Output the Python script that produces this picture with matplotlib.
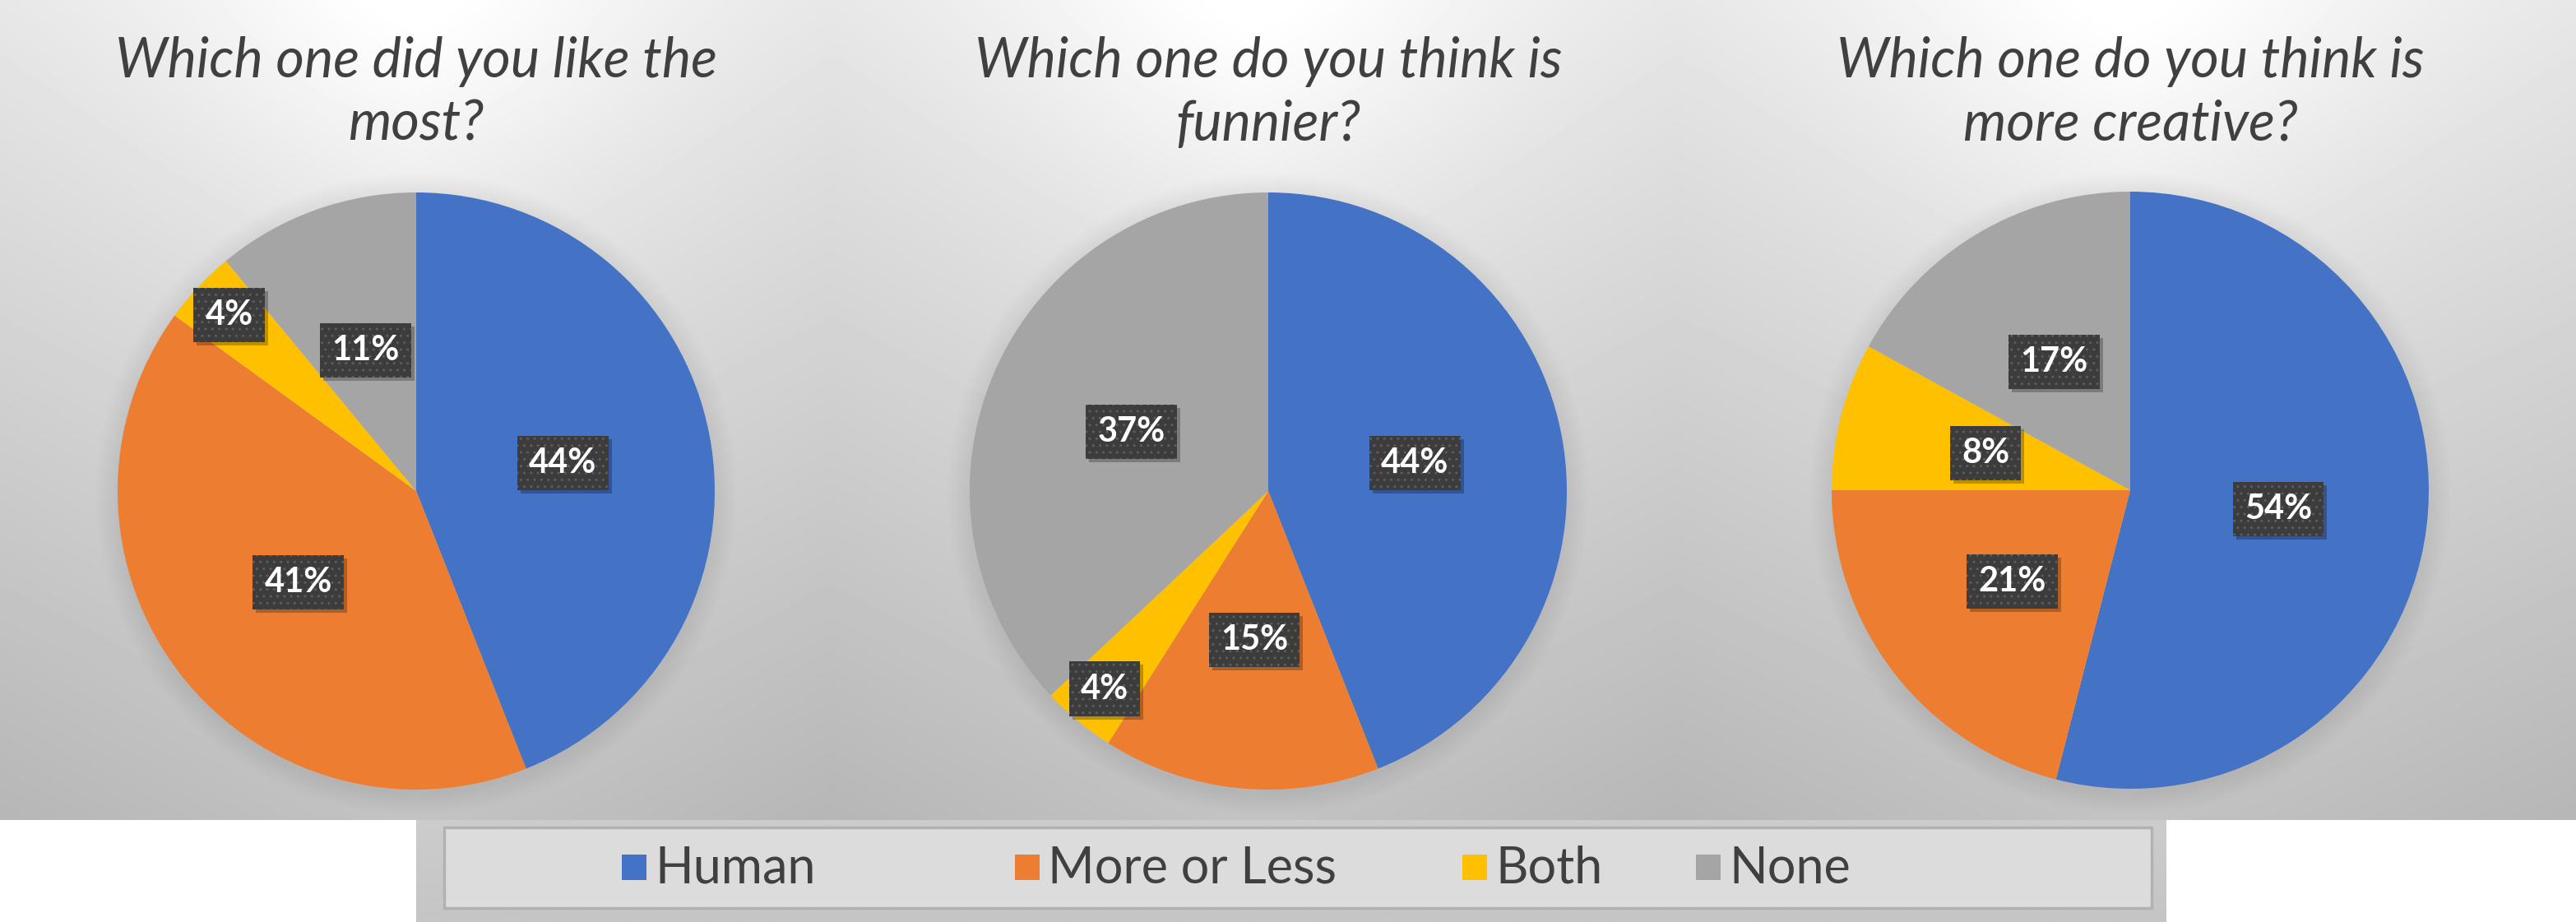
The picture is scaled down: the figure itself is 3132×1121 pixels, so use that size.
import numpy as np
import matplotlib
matplotlib.use("Agg")
import matplotlib.pyplot as plt
import matplotlib.transforms as mtransforms
from matplotlib.patches import Circle, Rectangle

W, H = 3132, 1121

# -------------------- data --------------------
categories = ["Human", "More or Less", "Both", "None"]
colors = ["#4472C4", "#ED7D31", "#FFC000", "#A5A5A5"]

titles = ["Which one did you like the\nmost?",
          "Which one do you think is\nfunnier?",
          "Which one do you think is\nmore creative?"]

liked = [44, 41, 4, 11]
funnier = [44, 15, 4, 37]
creative = [54, 21, 8, 17]
all_values = [liked, funnier, creative]

# -------------------- layout (pixels) --------------------
panels = [(0, 1010), (1010, 2038), (2038, 3132)]
panel_bottom = 997
centers = [(506, 597), (1542, 597), (2590, 596)]
R = 363


def px_axes(x0, y0, x1, y1, z=0):
    return fig.add_axes([x0 / W, 1 - y1 / H, (x1 - x0) / W, (y1 - y0) / H], zorder=z)


def gradient_bg(ax, top=0.955, bottom=0.765, side=0.05, glow=0.05):
    yy, xx = np.mgrid[0:1:300j, 0:1:300j]
    v = top - (top - bottom) * yy - side * np.abs(xx - 0.5) * 2
    v += glow * np.exp(-((xx - 0.5) ** 2 / 0.08 + yy ** 2 / 0.06))
    ax.imshow(np.clip(v, 0, 1), cmap="gray", vmin=0, vmax=1, extent=(0, 1, 0, 1),
              aspect="auto", interpolation="bilinear")
    ax.set_xlim(0, 1)
    ax.set_ylim(0, 1)
    ax.axis("off")


fig = plt.figure(figsize=(W / 100, H / 100), dpi=100)
fig.patch.set_facecolor("white")

for (x0, x1), (cx, cy), values, title in zip(panels, centers, all_values, titles):
    bg = px_axes(x0, 0, x1, panel_bottom, z=0)
    gradient_bg(bg)

    ax = px_axes(cx - R, cy - R, cx + R, cy + R, z=1)
    # soft shadow round the pie
    for k in range(1, 16):
        ax.add_patch(Circle((0, -0.01), 1 + k * 0.005, color="black", alpha=0.005,
                            lw=0, clip_on=False, zorder=0))
    wedges, _, autotexts = ax.pie(values, colors=colors, startangle=90, counterclock=False,
                                  autopct="%1.0f%%", pctdistance=0.5, radius=1,
                                  wedgeprops=dict(linewidth=0))
    for w in wedges:
        w.set_zorder(1)
    ax.set_xlim(-1, 1)
    ax.set_ylim(-1, 1)
    ax.set_aspect("equal")
    ax.axis("off")

    for w, t, v in zip(wedges, autotexts, values):
        ang = np.deg2rad((w.theta1 + w.theta2) / 2)
        d = 0.86 if v < 5 else 0.5
        x, y = d * np.cos(ang), d * np.sin(ang)
        t.set_visible(False)
        shadow = mtransforms.offset_copy(ax.transData, fig=fig, x=4, y=-4, units="dots")
        ax.text(x, y, t.get_text(), transform=shadow, ha="center", va="center",
                fontsize=30, fontweight="bold", family="Lato", color=(0, 0, 0, 0),
                bbox=dict(boxstyle="square,pad=0.34", facecolor="black", alpha=0.25, lw=0),
                zorder=3)
        ax.text(x, y, t.get_text(), ha="center", va="center", fontsize=30,
                fontweight="bold", family="Lato", color="white",
                bbox=dict(boxstyle="square,pad=0.34", facecolor="#3c3c3c",
                          edgecolor="#5e5e5e", hatch="..", linewidth=0),
                zorder=4)

    fig.text(cx / W, 1 - 113 / H, title, ha="center", va="center", fontsize=48,
             style="italic", family="Lato", color="#404040", linespacing=1.3)

# -------------------- legend --------------------
lg_bg = px_axes(506, panel_bottom, 2634, H, z=0)
gradient_bg(lg_bg, top=0.80, bottom=0.77, side=0.0, glow=0.0)

lg = px_axes(540, 1006, 2616, 1104, z=1)
lg.set_xlim(540, 2616)
lg.set_ylim(1104, 1006)
lg.axis("off")
lg.add_patch(Rectangle((540, 1006), 2076, 98, facecolor="#dcdcdc", edgecolor="#b2b2b2",
                       lw=2.5, clip_on=False))
marker_x = [756, 1234, 1778, 2062]
for name, c, mx in zip(categories, colors, marker_x):
    lg.add_patch(Rectangle((mx, 1039), 30, 31, facecolor=c, lw=0))
    lg.text(mx + 40, 1056, name, ha="left", va="center", fontsize=44, family="Lato",
            color="#404040")

fig.savefig("out.png", dpi=100, facecolor="white")
